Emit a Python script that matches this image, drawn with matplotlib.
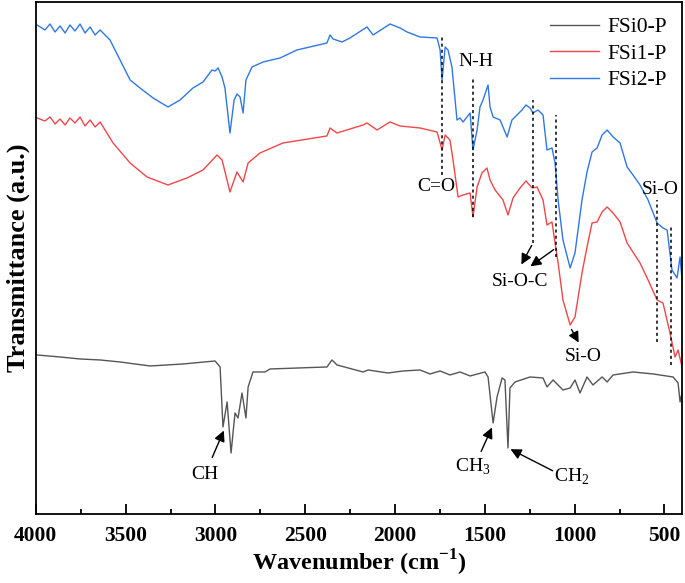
import matplotlib
matplotlib.use("Agg")
import matplotlib.pyplot as plt
from matplotlib.ticker import MultipleLocator

plt.rcParams['font.family'] = ['Liberation Serif', 'DejaVu Serif']
plt.rcParams['mathtext.fontset'] = 'custom'
plt.rcParams['mathtext.rm'] = 'Liberation Serif'
plt.rcParams['mathtext.bf'] = 'Liberation Serif:bold'

# wavenumber (cm-1) and transmittance (a.u., stacked)
wn_fsi0 = [3993, 3865, 3754, 3642, 3531, 3364, 3180, 3002, 2974, 2958, 2935, 2913,
           2891, 2874, 2852, 2830, 2818, 2791, 2724, 2696, 2379, 2351, 2323, 2178,
           2150, 2039, 1955, 1861, 1805, 1749, 1694, 1638, 1582, 1499, 1482, 1454,
           1432, 1404, 1388, 1371, 1360, 1332, 1248, 1176, 1154, 1120, 1065, 1025,
           998, 970, 931, 898, 847, 819, 786, 675, 563, 452, 424, 413, 402]
t_fsi0 = [169, 167, 165, 164, 162, 158, 160, 163, 157, 97, 122, 71,
          111, 106, 131, 106, 137, 152, 152, 155, 157, 164, 159, 152,
          154, 151, 153, 154, 150, 153, 149, 152, 148, 152, 147, 101,
          127, 146, 144, 76, 136, 142, 147, 146, 137, 144, 134, 136,
          144, 131, 147, 139, 147, 142, 149, 152, 150, 147, 141, 122, 131]

wn_fsi1 = [3993, 3949, 3921, 3893, 3865, 3837, 3810, 3782, 3754, 3726, 3698, 3670,
           3642, 3570, 3475, 3381, 3264, 3158, 3069, 2991, 2963, 2919, 2880, 2846,
           2818, 2752, 2624, 2379, 2362, 2323, 2178, 2156, 2100, 2028, 1972, 1861,
           1766, 1738, 1721, 1694, 1677, 1649, 1621, 1582, 1566, 1543, 1516, 1488,
           1471, 1443, 1399, 1371, 1343, 1304, 1271, 1237, 1209, 1176, 1154, 1126,
           1109, 1092, 1065, 1025, 998, 959, 931, 903, 875, 847, 819, 786,
           747, 708, 636, 591, 541, 508, 469, 441, 424, 402]
t_fsi1 = [406, 403, 407, 400, 405, 399, 406, 401, 407, 398, 404, 397,
          402, 381, 361, 347, 339, 346, 354, 369, 364, 332, 352, 342,
          361, 371, 381, 388, 396, 391, 399, 401, 394, 402, 398, 396,
          392, 374, 389, 384, 364, 327, 329, 331, 307, 337, 351, 356,
          344, 334, 324, 309, 326, 336, 343, 336, 337, 324, 299, 302,
          281, 261, 224, 199, 207, 251, 277, 301, 302, 312, 317, 311,
          302, 281, 261, 244, 224, 221, 191, 167, 174, 157]

wn_fsi2 = [3993, 3949, 3921, 3893, 3865, 3837, 3810, 3782, 3754, 3726, 3698, 3670,
           3642, 3587, 3531, 3475, 3420, 3347, 3264, 3197, 3125, 3069, 3019, 3002,
           2985, 2963, 2947, 2919, 2896, 2880, 2863, 2846, 2830, 2796, 2735, 2640,
           2546, 2379, 2362, 2345, 2295, 2251, 2156, 2122, 2028, 1972, 1933, 1861,
           1766, 1749, 1738, 1721, 1705, 1683, 1655, 1638, 1621, 1582, 1566, 1543,
           1527, 1510, 1482, 1471, 1454, 1415, 1376, 1349, 1321, 1293, 1271, 1248,
           1232, 1204, 1176, 1154, 1126, 1109, 1092, 1065, 1025, 998, 959, 931,
           903, 875, 847, 819, 786, 747, 708, 675, 636, 591, 541, 508,
           485, 458, 430, 413, 402]
t_fsi2 = [499, 494, 500, 492, 498, 491, 499, 493, 500, 491, 497, 489,
          494, 484, 464, 444, 436, 426, 417, 424, 436, 442, 454, 453,
          456, 447, 436, 391, 424, 430, 427, 411, 444, 457, 462, 466,
          474, 481, 489, 485, 482, 486, 497, 489, 500, 496, 492, 487,
          486, 474, 444, 477, 474, 457, 404, 406, 402, 411, 374, 394,
          417, 424, 439, 417, 407, 404, 387, 404, 409, 414, 419, 416,
          411, 414, 409, 374, 376, 361, 324, 284, 256, 271, 324, 352,
          372, 376, 389, 394, 387, 381, 357, 349, 339, 324, 301, 296,
          294, 254, 246, 267, 244]

labels = ['FSi0-P', 'FSi1-P', 'FSi2-P']
colors = ['#555555', '#f0474a', '#2f78e4']

# band markers: wavenumber, top, bottom of dashed guide
band_wn = [1738, 1566, 1232, 1104, 541, 463]
band_top = [489, 447, 424, 409, 324, 299]
band_bot = [349, 307, 281, 267, 182, 159]

fig = plt.figure(figsize=(6.85, 5.83), dpi=100)
ax = fig.add_axes([0.0523, 0.1184, 0.9439, 0.8782])

for wn, t, lab, c in zip([wn_fsi0, wn_fsi1, wn_fsi2], [t_fsi0, t_fsi1, t_fsi2], labels, colors):
    ax.plot(wn, t, color=c, lw=1.0, label=lab)

for w, t0, t1 in zip(band_wn, band_top, band_bot):
    ax.plot([w, w], [t1, t0], color='k', ls=(0, (2, 2)), lw=1.1)

fs = 14
ax.text(1772, 337, 'C=O', fontsize=fs, ha='center', va='center')
ax.text(1549, 462, 'N-H', fontsize=fs, ha='center', va='center')
ax.text(1304, 242, 'Si-O-C', fontsize=fs, ha='center', va='center')
ax.text(953, 167, 'Si-O', fontsize=fs, ha='center', va='center')
ax.text(524, 334, 'Si-O', fontsize=fs, ha='center', va='center')
ax.text(3058, 49, 'CH', fontsize=fs, ha='center', va='center')
ax.text(1566, 57, 'CH$_3$', fontsize=fs, ha='center', va='center')
ax.text(1015, 47, 'CH$_2$', fontsize=fs, ha='center', va='center')

arr = dict(arrowstyle='-|>', color='k', lw=1.0, mutation_scale=16)
ax.annotate('', xy=(1304, 257), xytext=(1232, 281), arrowprops=arr)
ax.annotate('', xy=(1259, 256), xytext=(1104, 276), arrowprops=arr)
ax.annotate('', xy=(970, 179), xytext=(1025, 197), arrowprops=arr)
ax.annotate('', xy=(2947, 96), xytext=(3024, 64), arrowprops=arr)
ax.annotate('', xy=(1454, 99), xytext=(1527, 70), arrowprops=arr)
ax.annotate('', xy=(1371, 76), xytext=(1109, 52), arrowprops=arr)

ax.set_xlim(4000, 400)
ax.set_ylim(10, 522)
ax.xaxis.set_major_locator(MultipleLocator(500))
ax.xaxis.set_minor_locator(MultipleLocator(250))
ax.tick_params(axis='x', which='major', direction='in', length=7, width=1.3,
               labelsize=15.5, pad=9)
ax.tick_params(axis='x', which='minor', direction='in', length=3.6, width=1.3)
ax.set_yticks([])
for lbl in ax.get_xticklabels():
    lbl.set_fontweight('bold')
for s in ax.spines.values():
    s.set_linewidth(1.3)

ax.set_xlabel('Wavenumber (cm$^{\\mathbf{-1}}$)', fontsize=17.5, fontweight='bold', labelpad=1)
ax.set_ylabel('Transmittance (a.u.)', fontsize=19, fontweight='bold', labelpad=4)

ax.legend(loc='upper right', frameon=False, fontsize=15.5, handlelength=2.3,
          labelspacing=0.3, borderaxespad=0.3, handletextpad=0.4)

fig.savefig('out.png', dpi=100)
